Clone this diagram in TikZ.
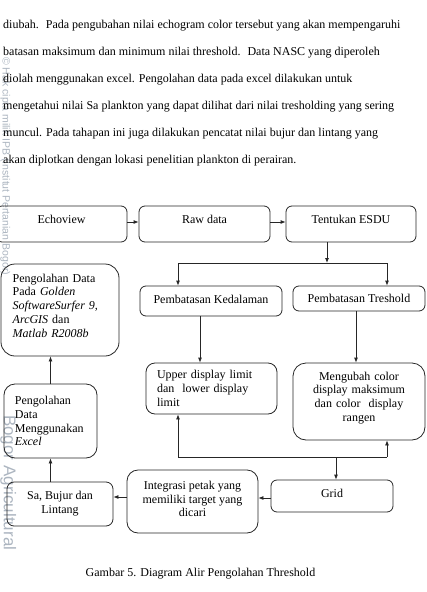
\documentclass[tikz,border=0pt]{standalone}
\usepackage{fontspec}
\setmainfont{Liberation Serif}
\newfontfamily\wmfont{Liberation Sans}
\usetikzlibrary{arrows.meta,calc}
\definecolor{wm}{RGB}{172,181,192}
\begin{document}
\begin{tikzpicture}[x=1pt,y=-1pt,
  font=\fontsize{12}{13.8}\selectfont,
  box/.style={draw=black!85, line width=0.8pt, rounded corners=6pt, inner sep=0pt, align=center},
  arr/.style={-{Latex[length=5pt,width=4pt]}, line width=0.8pt, draw=black!85},
  ln/.style={line width=0.8pt, draw=black!85},
  para/.style={anchor=base west, inner sep=0pt},
  wmark/.style={anchor=base west, rotate=-90, inner sep=0pt, text=wm}]
\useasboundingbox (0,0) rectangle (426,592);

% watermark
\node[wmark, font=\wmfont\fontsize{10.5}{12}\selectfont] (wm1) at (2.6,57) {© Hak cipta milik IPB (Institut Pertanian Bogor)};
\node[wmark, font=\wmfont\fontsize{17}{20}\selectfont] (wm2) at (4,415) {Bogor Agricultural};

% paragraph
\node[para] (p1) at (3,28.5) {diubah.~ Pada pengubahan nilai echogram color tersebut yang akan mempengaruhi};
\node[para] (p2) at (3,55.5) {batasan maksimum dan minimum nilai threshold.~ Data NASC yang diperoleh};
\node[para] (p3) at (3,82.5) {diolah menggunakan excel. Pengolahan data pada excel dilakukan untuk};
\node[para] (p4) at (3,109.5) {mengetahui nilai Sa plankton yang dapat dilihat dari nilai tresholding yang sering};
\node[para] (p5) at (3,136.5) {muncul. Pada tahapan ini juga dilakukan pencatat nilai bujur dan lintang yang};
\node[para] (p6) at (3,163.5) {akan diplotkan dengan lokasi penelitian plankton di perairan.};

% boxes
\node[box, minimum width=131pt, minimum height=36pt, text depth=10pt] (echo) at (61.5,224) {Echoview};
\node[box, minimum width=131pt, minimum height=36pt, text depth=10pt] (raw) at (204.5,224) {Raw data};
\node[box, minimum width=130pt, minimum height=36pt, text depth=10pt] (esdu) at (351,224) {Tentukan ESDU};
\node[box, minimum width=142pt, minimum height=30pt, text depth=4pt] (ked) at (211,301) {Pembatasan Kedalaman};
\node[box, minimum width=132pt, minimum height=25pt] (tre) at (359,298.5) {Pembatasan Treshold};

\node[box, rounded corners=14pt, minimum width=118pt, minimum height=92pt, text width=94.6pt, align=left] (gold) at (60,310)
  {Pengolahan Data\\ Pada \textit{Golden}\\ \textit{SoftwareSurfer 9,}\\ \textit{ArcGIS} dan\\ \textit{Matlab R2008b}\rule[-9pt]{0pt}{0pt}};
\node[box, rounded corners=11pt, minimum width=93pt, minimum height=74pt, text width=71pt, align=left] (excel) at (50.5,421)
  {Pengolahan\\ Data\\ Menggunakan\\ \textit{Excel}};
\node[box, rounded corners=9pt, minimum width=131pt, minimum height=51pt, text width=109pt, align=left] (upper) at (211.5,388.5)
  {Upper display limit\\ dan~ lower display\\ limit};
\node[box, rounded corners=13pt, minimum width=132pt, minimum height=77pt, text width=120pt, align=center] (meng) at (359,401.5)
  {Mengubah color\\ display maksimum\\ dan color~ display\\ rangen\rule[-9.6pt]{0pt}{0pt}};
\node[box, rounded corners=7pt, minimum width=106pt, minimum height=44pt] (sa) at (60,504) {Sa, Bujur dan\\ Lintang};
\node[box, rounded corners=11pt, minimum width=131pt, minimum height=63pt] (integ) at (192.5,501.5)
  {Integrasi petak yang\\ memiliki target yang\\ dicari\rule[-5pt]{0pt}{0pt}};
\node[box, rounded corners=6pt, minimum width=122pt, minimum height=32pt, text depth=6pt] (grid) at (332,496) {Grid};

% caption
\node[anchor=base, inner sep=0pt] (cap) at (200.5,576.5) {Gambar 5. Diagram Alir Pengolahan Threshold};

% connectors
\draw[arr] ([yshift=2pt]echo.east) -- ([yshift=2pt]raw.west);
\draw[arr] ([yshift=2pt]raw.east) -- ([yshift=2pt]esdu.west);
\coordinate (jm) at (327,263);
\coordinate (jl) at (178,263);
\coordinate (jr) at (387,263);
\draw[arr] (esdu.south -| jm) -- (jm);
\draw[ln] (jl) -- (jr);
\draw[arr] (jl) -- (jl |- ked.north);
\draw[arr] (jr) -- (jr |- tre.north);
\coordinate (kv) at (200,0);
\draw[arr] (ked.south -| kv) -- (upper.north -| kv);
\coordinate (tv) at (356,0);
\draw[arr] (tre.south -| tv) -- (meng.north -| tv);
\coordinate (fl) at (178,457);
\coordinate (fm) at (336,457);
\coordinate (fr) at (387,457);
\draw[ln] (fl) -- (fr);
\draw[arr] (fl) -- (fl |- upper.south);
\draw[arr] (fr) -- (fr |- meng.south);
\draw[arr] (fm) -- (fm |- grid.north);
\coordinate (hy) at (0,498);
\draw[arr] (grid.west |- hy) -- (integ.east |- hy);
\coordinate (hy2) at (0,497);
\draw[arr] (integ.west |- hy2) -- (sa.east |- hy2);
\draw[arr] (sa.north -| excel.south) -- (excel.south);
\draw[arr] (excel.north) -- (excel.north |- gold.south);
\end{tikzpicture}
\end{document}
